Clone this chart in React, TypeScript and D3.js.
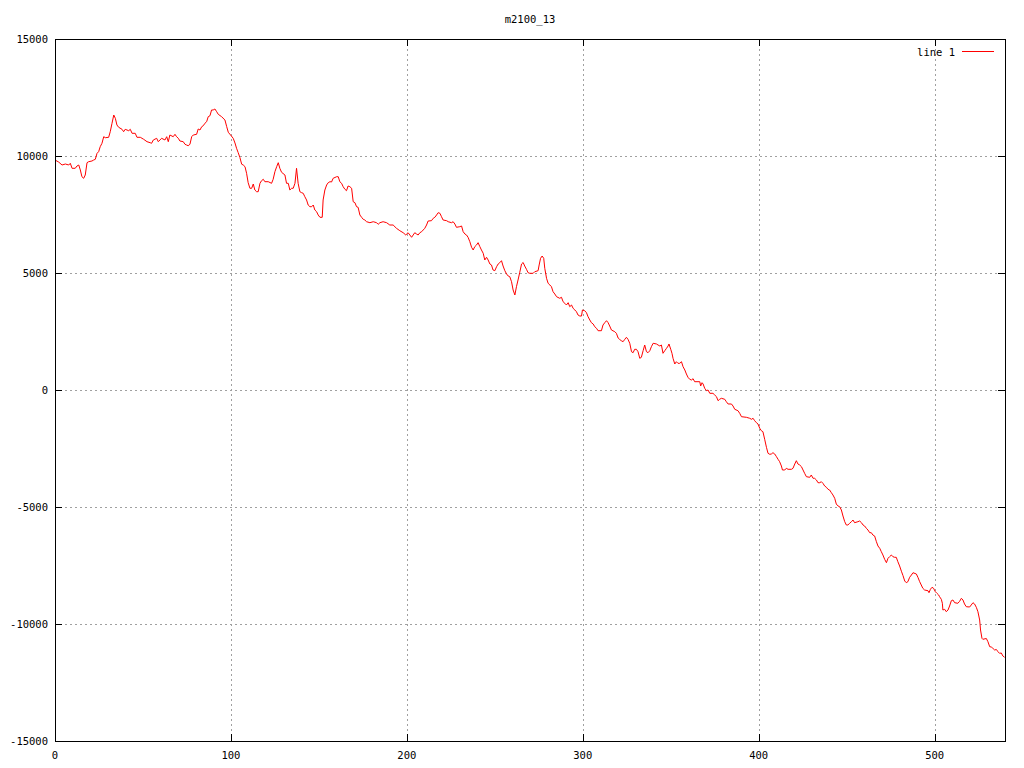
import React from "react";
import * as d3 from "d3";

const title = "m2100_13";
const seriesName = "line 1";
const xTicks = [0, 100, 200, 300, 400, 500];
const yTicks = [-15000, -10000, -5000, 0, 5000, 10000, 15000];
const xDomain = [0, 540];
const yDomain = [-15000, 15000];

const line1: [number, number][] = [
[0,9830],[2.1,9740],[4,9615],[5.9,9658],[7.8,9615],[8.7,9688],[9.7,9474],[11.5,9474],[12.5,9573],[13.5,9615],[14.4,9402],[15.3,9115],[16.3,9047],[17.2,9188],[18.2,9714],[19.1,9756],[21,9786],[22,9829],[22.9,9859],[23.9,10115],[24.8,10184],[25.7,10397],[26.7,10543],[27.7,10825],[28.6,10782],[30.5,10799],[31.4,11038],[32.4,11397],[33.4,11752],[34.3,11611],[35.2,11325],[36.2,11226],[38.1,11141],[39,11038],[39.9,11141],[41.9,11081],[42.8,11141],[43.8,10970],[45.6,10970],[46.6,10799],[48.5,10799],[50.4,10714],[52.3,10611],[54.1,10568],[54.9,10543],[55.9,10684],[57.8,10756],[58.7,10611],[60.6,10756],[62.5,10684],[63.5,10825],[64.4,10611],[65.3,10897],[67.2,10825],[68.2,10927],[69.1,10825],[70.1,10756],[71,10641],[72.9,10611],[73.9,10500],[74.8,10470],[75.7,10440],[76.7,10500],[77.7,10825],[78.6,10897],[80.5,10927],[81.4,11154],[82.4,11111],[83.4,11252],[84.3,11295],[85.2,11397],[86.2,11466],[87.1,11680],[88.1,11722],[89,11966],[89.9,11966],[90.9,12009],[91.9,11893],[92.8,11782],[94.7,11680],[96.6,11538],[97.6,11252],[98.5,11013],[99.8,10897],[101.3,10756],[102.3,10556],[103.2,10329],[104.1,10150],[105.1,9936],[106.1,9650],[107,9615],[108,9543],[108.9,9261],[109.8,8859],[110.8,8620],[111.8,8620],[112.7,8803],[113.6,8547],[114.6,8474],[115.5,8474],[116.5,8833],[117.4,8944],[118.4,9004],[119.3,8902],[121.2,8902],[123.1,8833],[124,9004],[125,9329],[126,9543],[126.9,9714],[127.8,9474],[128.8,9303],[130.7,9188],[131.6,8833],[132.6,8833],[133.5,8547],[134.5,8620],[135.4,8620],[136.4,8833],[137.3,9474],[138.2,8833],[139.2,8474],[140.2,8432],[141.1,8406],[142,8261],[143,8120],[143.9,7906],[144.9,7833],[145.9,7833],[146.8,7906],[147.7,7692],[148.7,7620],[149.6,7479],[150.6,7380],[151.9,7380],[152.4,8120],[153.4,8547],[154.4,8761],[155.3,8859],[156.3,8902],[157.2,8889],[158.1,9047],[160.1,9115],[161,9115],[161.9,8902],[162.9,8833],[163.8,8688],[164.8,8577],[165.7,8517],[166.6,8718],[167.6,8688],[168.6,8620],[169.5,8047],[170.5,8004],[171.4,7833],[172.3,7808],[173.3,7479],[174.3,7380],[175.2,7295],[176.1,7265],[177.1,7192],[179,7150],[180.9,7192],[182.8,7150],[183.7,7081],[184.7,7150],[186.5,7192],[188.5,7150],[190.3,7051],[192.2,7051],[194.1,6910],[196,6808],[197.9,6722],[199.4,6624],[200.7,6722],[201.7,6624],[202.7,6526],[203.6,6624],[204.5,6722],[205.5,6667],[206.4,6624],[207.4,6722],[208.4,6765],[209.3,6838],[210.2,6910],[211.2,7051],[212.1,7222],[214,7235],[215,7338],[215.9,7380],[216.9,7479],[217.8,7577],[218.8,7551],[219.7,7406],[220.6,7265],[222.6,7235],[223.5,7192],[225.4,7150],[226.3,7192],[227.3,7094],[228.2,6953],[230.1,6979],[231.1,7009],[232,6765],[233,6667],[233.9,6624],[234.8,6526],[235.8,6338],[236.8,6098],[237.7,5983],[238.6,6124],[239.6,6197],[240.5,6295],[241.5,6124],[242.4,5983],[243.4,5842],[244.3,5556],[245.3,5671],[246.2,5556],[247.2,5385],[248.1,5342],[249,5128],[250,5098],[251,5269],[251.9,5385],[252.8,5440],[253.8,5526],[254.7,5299],[255.7,5098],[256.7,4957],[257.6,4872],[258.5,4842],[259.5,4628],[260.4,4274],[261.4,4060],[262.3,4415],[263.2,4701],[264.2,5034],[265.2,5385],[266.1,5449],[267,5299],[268,5158],[268.9,5013],[269.9,4987],[271.8,4987],[272.7,5056],[274.6,5098],[275.2,5342],[276,5628],[276.9,5726],[277.8,5628],[278.4,5201],[279.4,4774],[280.3,4560],[281.3,4487],[282.2,4415],[283.1,4201],[284.1,4103],[285.1,3987],[286.9,3919],[287.9,3962],[288.8,3774],[289.8,3705],[290.7,3632],[291.7,3731],[292.6,3560],[293.6,3632],[294.5,3491],[295.5,3419],[296.4,3346],[297.3,3205],[298.3,3162],[299.3,3162],[299.8,3419],[301.1,3389],[302.1,3303],[303,3132],[304,2991],[304.9,2876],[305.9,2821],[306.8,2705],[307.8,2637],[308.7,2534],[310.6,2534],[311.5,2778],[312.5,2876],[313.5,2962],[314.4,2876],[315.3,2735],[316.3,2564],[318.2,2491],[319.1,2423],[320.1,2222],[321,2158],[321.9,2107],[322.9,2064],[323.9,2167],[324.8,2252],[325.7,2167],[326.7,1996],[327.7,1637],[328.6,1594],[329.5,1739],[330.5,1739],[331.4,1637],[332.4,1355],[333.3,1397],[334.3,1679],[335.2,1923],[336.2,1637],[337.1,1594],[338.1,1679],[339,1850],[340,1996],[341.9,1966],[342.8,1923],[343.8,1880],[344.7,1923],[345.6,1568],[346.6,1679],[347.6,1782],[348.5,1880],[349,1966],[350,1739],[350.7,1568],[351.3,1355],[352.3,1111],[353.2,1209],[354.1,1141],[355.1,1141],[356.1,1209],[357,996],[358,855],[358.9,684],[359.8,543],[360.8,457],[361.8,427],[362.7,483],[363.6,355],[366.5,355],[367,171],[367.8,312],[368.4,256],[369.3,73],[370.3,-30],[371.2,0],[372.2,-141],[374,-141],[375,-214],[376,-286],[376.9,-457],[377.8,-397],[378.8,-355],[380.7,-397],[381.6,-500],[382.6,-598],[384.5,-598],[385.4,-684],[386.4,-825],[388.2,-885],[389.2,-996],[390.2,-1141],[393,-1167],[394.9,-1209],[395.9,-1252],[396.8,-1209],[397.7,-1312],[398.7,-1397],[399.6,-1453],[400.6,-1637],[401.5,-1739],[402.4,-1782],[403.4,-2107],[404.4,-2449],[405.3,-2705],[406.3,-2748],[407.2,-2735],[408.1,-2679],[409.1,-2735],[410.1,-2850],[411,-2962],[411.9,-3064],[412.9,-3248],[413.5,-3419],[414.8,-3419],[415.7,-3346],[416.7,-3389],[418.6,-3389],[419.5,-3346],[420.5,-3162],[421.4,-3021],[422.3,-3162],[423.3,-3205],[424.3,-3278],[425.2,-3419],[426.1,-3560],[427.1,-3705],[429,-3731],[429.9,-3632],[430.9,-3774],[431.8,-3774],[432.8,-3846],[433.7,-3962],[434.7,-3962],[435.6,-3919],[436.5,-3987],[437.5,-4103],[438.5,-4158],[439.4,-4244],[440.3,-4274],[441.3,-4389],[442.2,-4487],[443.2,-4628],[444.1,-4872],[445.1,-4957],[446,-4987],[447,-5128],[447.9,-5385],[448.9,-5628],[449.8,-5769],[450.7,-5769],[451.7,-5697],[452.7,-5628],[453.6,-5556],[454.5,-5671],[456.4,-5628],[457.4,-5598],[458.4,-5671],[459.3,-5769],[460.2,-5812],[461.2,-5910],[462.1,-5983],[463.1,-6098],[464,-6098],[464.9,-6197],[465.9,-6239],[466.9,-6483],[467.8,-6667],[468.8,-6765],[469.7,-6910],[470.6,-7051],[471.6,-7235],[472.6,-7380],[473.5,-7192],[474.4,-7124],[475.4,-7051],[476.3,-7124],[477.3,-7150],[478.2,-7150],[479.1,-7338],[480.1,-7521],[481.1,-7744],[482,-7927],[483,-8162],[483.9,-8235],[484.8,-8192],[485.8,-8004],[486.8,-7906],[487.7,-7808],[489.6,-7863],[490.5,-8004],[491.5,-8192],[492.4,-8333],[493.3,-8474],[494.3,-8547],[496.2,-8577],[496.8,-8662],[497.6,-8517],[498.5,-8432],[499.4,-8474],[500.4,-8620],[501.3,-8688],[502.3,-8761],[502.8,-8833],[503.8,-8944],[504.4,-9115],[504.7,-9402],[505.7,-9372],[506.6,-9474],[507.6,-9402],[508.5,-9231],[509.5,-9004],[510.4,-8974],[511.4,-9090],[513.2,-9115],[514.2,-9030],[515.2,-8902],[516.1,-8974],[517,-9145],[518,-9261],[519.9,-9274],[520.8,-9188],[521.8,-9090],[522.7,-9145],[523.7,-9286],[524.6,-9474],[525.6,-9829],[526.1,-10256],[526.9,-10611],[527.4,-10654],[529.4,-10620],[530.3,-10756],[531.3,-10970],[532.2,-10983],[533.1,-11038],[534.1,-11111],[535.1,-11090],[536,-11184],[536.9,-11252],[537.9,-11239],[538.8,-11368],[539.8,-11423]
];

const W = 1024;
const H = 768;
const left = 55;
const right = 1005;
const top = 39;
const bottom = 741;
const tickLen = 7;
const font = "'DejaVu Sans Mono', monospace";
const fontSize = 10.5;

export default function App() {
  const x = d3.scaleLinear().domain(xDomain).range([left, right]);
  const y = d3.scaleLinear().domain(yDomain).range([bottom, top]);
  const lineGen = d3
    .line<[number, number]>()
    .x((d) => x(d[0]))
    .y((d) => y(d[1]));
  const px = (v: number) => Math.round(v) + 0.5;

  return (
    <div style={{ position: "absolute", left: 0, top: 0, width: W, height: H, background: "#fff" }}>
      <svg width={W} height={H} style={{ display: "block" }}>
        <rect x={0} y={0} width={W} height={H} fill="#fff" />
        {/* grid */}
        <g stroke="#a0a0a0" strokeWidth={1} strokeDasharray="2,3" shapeRendering="crispEdges">
          {xTicks.filter((t) => t > xDomain[0] && t < xDomain[1]).map((t) => (
            <line key={"gx" + t} x1={px(x(t))} x2={px(x(t))} y1={top} y2={bottom} />
          ))}
          {yTicks.filter((t) => t > yDomain[0] && t < yDomain[1]).map((t) => (
            <line key={"gy" + t} x1={left} x2={right} y1={px(y(t))} y2={px(y(t))} />
          ))}
        </g>
        {/* ticks */}
        <g stroke="#000" strokeWidth={1} shapeRendering="crispEdges">
          {xTicks.map((t) => (
            <g key={"tx" + t}>
              <line x1={px(x(t))} x2={px(x(t))} y1={bottom} y2={bottom - tickLen} />
              <line x1={px(x(t))} x2={px(x(t))} y1={top} y2={top + tickLen} />
            </g>
          ))}
          {yTicks.map((t) => (
            <g key={"ty" + t}>
              <line x1={left} x2={left + tickLen} y1={px(y(t))} y2={px(y(t))} />
              <line x1={right} x2={right - tickLen} y1={px(y(t))} y2={px(y(t))} />
            </g>
          ))}
        </g>
        {/* series */}
        <path d={lineGen(line1) || ""} fill="none" stroke="#ff0000" strokeWidth={1} />
        {/* border */}
        <rect x={left + 0.5} y={top + 0.5} width={right - left} height={bottom - top} fill="none" stroke="#000" strokeWidth={1} shapeRendering="crispEdges" />
        {/* labels */}
        <g fontFamily={font} fontSize={fontSize} fill="#000">
          {yTicks.map((t) => (
            <text key={"ly" + t} x={left - 7} y={y(t)} textAnchor="end" dominantBaseline="central">
              {String(t)}
            </text>
          ))}
          {xTicks.map((t) => (
            <text key={"lx" + t} x={x(t)} y={bottom + 14} textAnchor="middle" dominantBaseline="central">
              {String(t)}
            </text>
          ))}
          <text x={(left + right) / 2} y={19} textAnchor="middle" dominantBaseline="central">
            {title}
          </text>
          <text x={955} y={52} textAnchor="end" dominantBaseline="central">
            {seriesName}
          </text>
        </g>
        <line x1={962} x2={994} y1={51.5} y2={51.5} stroke="#ff0000" strokeWidth={1} shapeRendering="crispEdges" />
      </svg>
    </div>
  );
}
